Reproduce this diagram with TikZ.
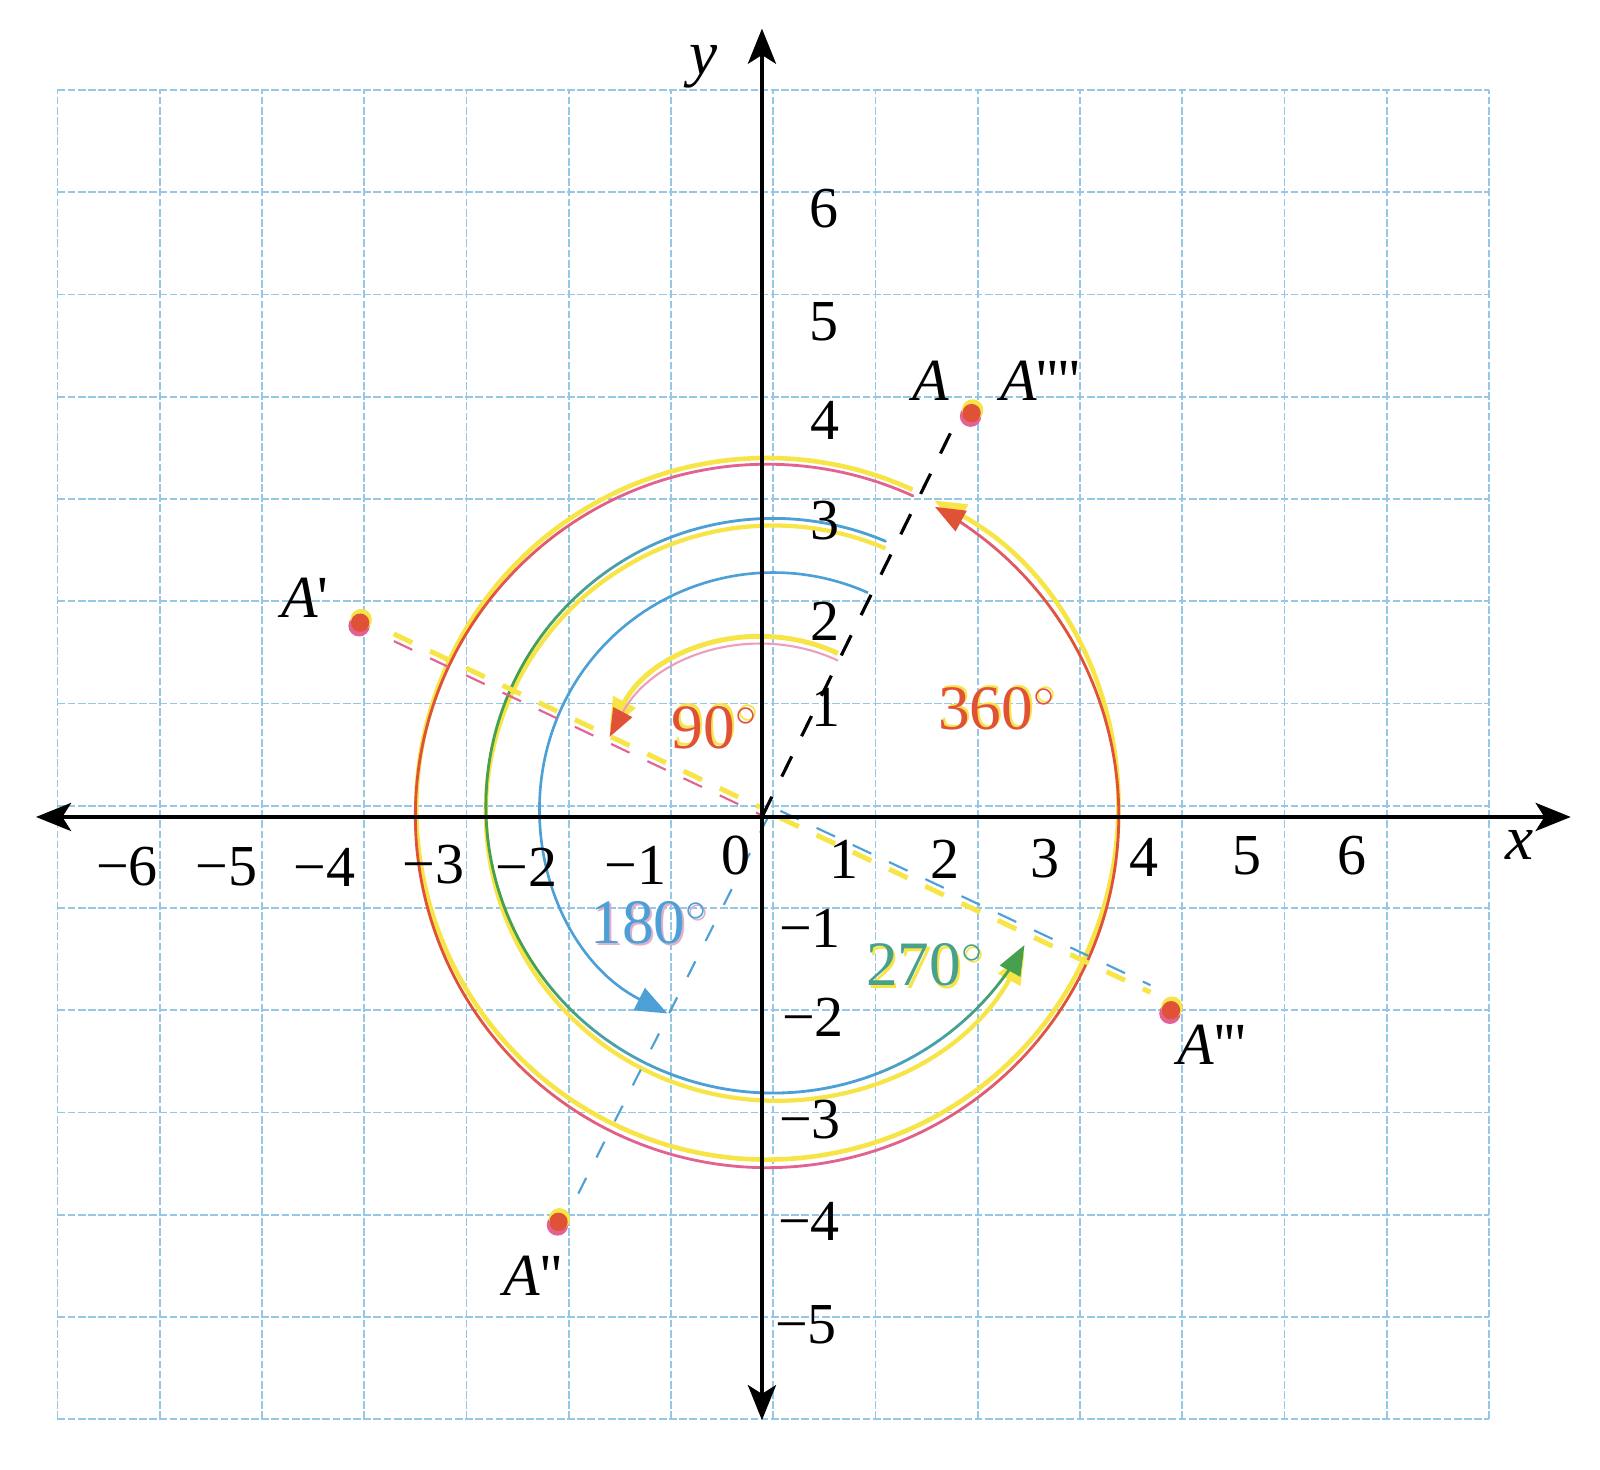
\documentclass[tikz,border=0pt]{standalone}
\usepackage{fontspec}
\setmainfont{Liberation Serif}
\usetikzlibrary{arrows.meta,calc}
\definecolor{gridc}{RGB}{150,200,230}
\definecolor{plY}{RGB}{247,228,70}
\definecolor{plM}{RGB}{226,98,148}
\definecolor{plMl}{RGB}{236,158,188}
\definecolor{plR}{RGB}{224,82,55}
\definecolor{plC}{RGB}{76,160,214}
\definecolor{plG}{RGB}{70,160,78}
\definecolor{plCl}{RGB}{225,175,205}
\begin{document}
\begin{tikzpicture}[x=1.0225cm,y=1.0225cm,
  gridline/.style={gridc,line width=0.5pt,dash pattern=on 2.2pt off 0.7pt},
  axisline/.style={line width=1.1pt,{Stealth[length=10pt,width=8pt,inset=2.5pt]}-{Stealth[length=10pt,width=8pt,inset=2.5pt]}},
  ticklab/.style={font=\fontsize{16.5}{19}\selectfont,inner sep=0pt},
  ptlab/.style={font=\fontsize{17}{20}\selectfont,inner sep=0pt},
  axlab/.style={font=\fontsize{18}{20}\selectfont,inner sep=0pt},
  deglab/.style={font=\fontsize{18}{20}\selectfont,inner sep=0pt},
  bigtip/.style={-{Triangle[length=9pt,width=7pt]}},
  bdash/.style={line width=0.9pt,dash pattern=on 6.4pt off 6.4pt},
  cdash/.style={line width=0.6pt,dash pattern=on 5pt off 6.5pt},
  ydash/.style={line width=1.4pt,dash pattern=on 5.8pt off 5.6pt},
  mdash/.style={line width=0.6pt,dash pattern=on 5.8pt off 5.6pt}]
\fill[white] (-7.452,-6.386) rectangle (8.196,7.990);
\useasboundingbox (-7.452,-6.386) rectangle (8.196,7.990);

% grid
\foreach \i in {-7,...,7} \draw[gridline] ({\i+0.11},-5.89) -- ({\i+0.11},7.11);
\foreach \j in {-6,...,7} \draw[gridline] (-6.89,{\j+0.11}) -- (7.11,{\j+0.11});

% key points
\coordinate (O) at (0,0);
\coordinate (A) at (2.05,3.95);
\coordinate (Atip) at (1.93,3.93);
\coordinate (A1) at (-3.93,1.90);
\coordinate (A2) at (-1.99,-3.96);
\coordinate (A3) at (4.00,-1.89);
\coordinate (cC) at (0.11,0.11);
\coordinate (cCy) at (0.11,0.04);
\coordinate (cR) at (0.05,0.01);
\coordinate (cRy) at (0.05,0.08);
\coordinate (c9y) at (0.02,0.05);
\coordinate (c9m) at (0.02,-0.02);
\coordinate (o1s) at (-3.60,1.755);
\coordinate (o1e) at (-0.02,0.06);
\coordinate (g1s) at (0.18,0.025);
\coordinate (g1e) at (3.80,-1.68);
\coordinate (b1s) at (0.06,0.00);
\coordinate (b1e) at (-1.87,-3.83);

% ---- 360 degree circle
\draw[plY,line width=1.3pt,bigtip] (cRy) ++(65.5:3.43) arc[start angle=65.5,end angle=421.5,radius=3.43];
\foreach \k in {0,...,69}{
  \pgfmathsetmacro\a{65.5+5*\k}
  \pgfmathtruncatemacro\w{100*min(1,max(0,(abs(sin(\a+2.5))-0.55)/0.4))}
  \draw[line width=0.8pt,line cap=round,color=plM!\w!plR] (cR) ++(\a:3.44) arc[start angle=\a,end angle=\a+5,radius=3.44];
}
\draw[line width=0.8pt,color=plM!60!plR,-{Triangle[length=8.5pt,width=6.5pt,color=plR]}] (cR) ++(415.5:3.44) arc[start angle=415.5,end angle=421.5,radius=3.44];

% ---- 270 degree arc
\draw[plY,line width=1.2pt,bigtip] (cCy) ++(67:2.81) arc[start angle=67,end angle=331,radius=2.81];
\foreach \k in {0,...,51}{
  \pgfmathsetmacro\a{67+5*\k}
  \pgfmathtruncatemacro\w{100*min(1,max(0,(abs(sin(\a+2.5))-0.55)/0.4))}
  \draw[line width=0.8pt,line cap=round,color=plC!\w!plG] (cC) ++(\a:2.81) arc[start angle=\a,end angle=\a+5,radius=2.81];
}
\draw[line width=0.8pt,color=plG,-{Triangle[length=8.5pt,width=6.5pt,color=plG]}] (cC) ++(327:2.81) arc[start angle=327,end angle=331,radius=2.81];

% ---- 180 degree arc
\draw[plC,line width=0.75pt,bigtip] (cC) ++(66:2.28) arc[start angle=66,end angle=243,radius=2.28];

% ---- 90 degree arc
\draw[plY,line width=1.4pt,bigtip] (c9y) ++(65:1.71) arc[start angle=65,end angle=152,radius=1.71];
\draw[plMl,line width=0.6pt,-{Triangle[length=8pt,width=6pt,color=plR]}] (c9m) ++(65:1.71) arc[start angle=65,end angle=152,radius=1.71];

% ---- dashed rays
\draw[plY,ydash] ($(o1s)+(0,0.035)$) -- ($(o1e)+(0,0.035)$);
\draw[plM,mdash] ($(o1s)+(0,-0.035)$) -- ($(o1e)+(0,-0.035)$);
\draw[plY,ydash] ($(g1s)+(0,-0.035)$) -- ($(g1e)+(0,-0.035)$);
\draw[plC,mdash] ($(g1s)+(0,0.035)$) -- ($(g1e)+(0,0.035)$);
\draw[plC,cdash] (b1s) -- (b1e);

% ---- points
\foreach \p in {A,A1,A2,A3}{
  \fill[plM] ($(\p)+(-0.01,-0.03)$) circle[radius=0.105];
  \fill[plY] ($(\p)+(0.01,0.03)$) circle[radius=0.105];
  \fill[plR] (\p) circle[radius=0.09];
}

% ---- angle labels
\node[deglab,text=plY] (d90y) at (-0.44,0.90) {90$^{\circ}$};
\node[deglab,text=plR] (d90r) at (-0.46,0.875) {90$^{\circ}$};
\node[deglab,text=plY] (d360y) at (2.32,1.08) {360$^{\circ}$};
\node[deglab,text=plR] (d360r) at (2.30,1.055) {360$^{\circ}$};
\node[deglab,text=plY] (d270y) at (1.62,-1.47) {270$^{\circ}$};
\node[deglab,text=plC!45!plG] (d270g) at (1.595,-1.445) {270$^{\circ}$};
\node[deglab,text=plCl] (d180m) at (-1.08,-1.055) {180$^{\circ}$};
\node[deglab,text=plC] (d180c) at (-1.10,-1.035) {180$^{\circ}$};

% black dashed ray O -> A
\draw[bdash] (O) -- (Atip);

% axes
\coordinate (xL) at (-7.10,0);
\coordinate (xR) at (7.91,0);
\coordinate (yB) at (0,-5.90);
\coordinate (yT) at (0,7.71);
\draw[axisline] (xL) -- (xR);
\draw[axisline] (yB) -- (yT);

% x tick labels
\node[ticklab] (xm6) at (-6.21,-0.49) {−6};
\node[ticklab] (xm5) at (-5.24,-0.49) {−5};
\node[ticklab] (xm4) at (-4.28,-0.49) {−4};
\node[ticklab] (xm3) at (-3.21,-0.47) {−3};
\node[ticklab] (xm2) at (-2.30,-0.49) {−2};
\node[ticklab] (xm1) at (-1.24,-0.47) {−1};
\node[ticklab] (x0) at (-0.25,-0.38) {0};
\node[ticklab] (xp1) at (0.80,-0.41) {1};
\node[ticklab] (xp2) at (1.79,-0.41) {2};
\node[ticklab] (xp3) at (2.77,-0.41) {3};
\node[ticklab] (xp4) at (3.74,-0.40) {4};
\node[ticklab] (xp5) at (4.74,-0.38) {5};
\node[ticklab] (xp6) at (5.77,-0.38) {6};

% y tick labels
\node[ticklab] (yp6) at (0.61,5.95) {6};
\node[ticklab] (yp5) at (0.61,4.84) {5};
\node[ticklab] (yp4) at (0.62,3.88) {4};
\node[ticklab] (yp3) at (0.62,2.90) {3};
\node[ticklab] (yp2) at (0.62,1.91) {2};
\node[ticklab] (yp1) at (0.63,1.07) {1};
\node[ticklab] (ym1) at (0.47,-1.09) {−1};
\node[ticklab] (ym2) at (0.50,-1.96) {−2};
\node[ticklab] (ym3) at (0.47,-2.96) {−3};
\node[ticklab] (ym4) at (0.46,-3.96) {−4};
\node[ticklab] (ym5) at (0.43,-4.97) {−5};

% axis names
\node[axlab] (xlab) at (7.41,-0.27) {\textit{x}};
\node[axlab] (ylab) at (-0.57,7.34) {\textit{y}};

% point labels
\node[ptlab] (lA) at (1.65,4.27) {\textit{A}};
\node[ptlab] (lA4) at (2.72,4.27) {\textit{A}\textquotesingle\textquotesingle\textquotesingle\textquotesingle};
\node[ptlab] (lA1) at (-4.47,2.14) {\textit{A}\textquotesingle};
\node[ptlab] (lA2) at (-2.24,-4.49) {\textit{A}\textquotesingle\textquotesingle};
\node[ptlab] (lA3) at (4.40,-2.23) {\textit{A}\textquotesingle\textquotesingle\textquotesingle};
\end{tikzpicture}
\end{document}
